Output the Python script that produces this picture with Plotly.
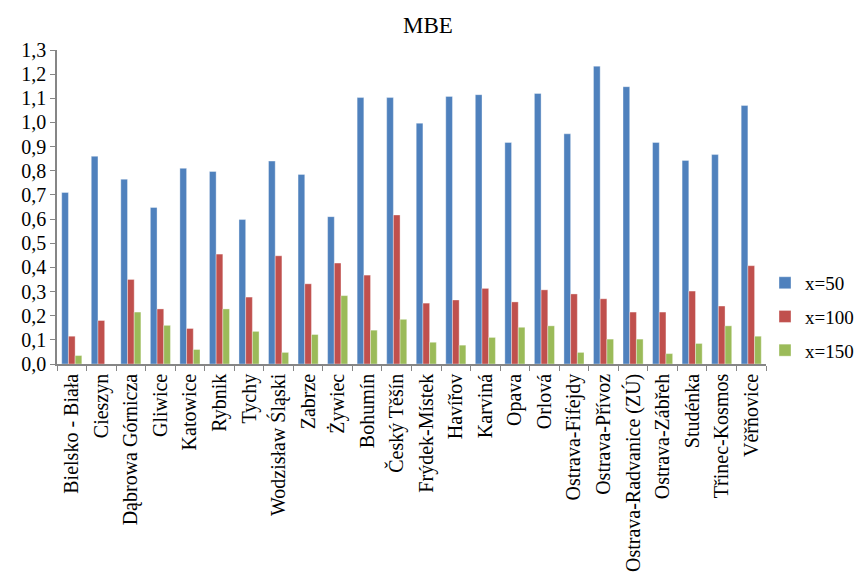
import plotly.graph_objects as go

categories = ["Bielsko - Biała", "Cieszyn", "Dąbrowa Górnicza", "Gliwice", "Katowice", "Rybnik",
              "Tychy", "Wodzisław Śląski", "Zabrze", "Żywiec", "Bohumín", "Český Těšín",
              "Frýdek-Místek", "Havířov", "Karviná", "Opava", "Orlová", "Ostrava-Fifejdy",
              "Ostrava-Přívoz", "Ostrava-Radvanice (ZÚ)", "Ostrava-Zábřeh", "Studénka",
              "Třinec-Kosmos", "Věřňovice"]
x50 = [0.71, 0.86, 0.765, 0.648, 0.81, 0.797, 0.598, 0.84, 0.785, 0.61, 1.103, 1.103,
       0.997, 1.108, 1.115, 0.917, 1.12, 0.953, 1.233, 1.148, 0.917, 0.843, 0.867, 1.07]
x100 = [0.115, 0.18, 0.35, 0.228, 0.147, 0.455, 0.277, 0.448, 0.332, 0.418, 0.368, 0.617,
        0.252, 0.265, 0.313, 0.257, 0.307, 0.29, 0.27, 0.215, 0.215, 0.302, 0.24, 0.407]
x150 = [0.035, 0.0, 0.215, 0.16, 0.06, 0.228, 0.135, 0.048, 0.122, 0.283, 0.14, 0.185,
        0.09, 0.078, 0.11, 0.152, 0.158, 0.048, 0.103, 0.103, 0.043, 0.085, 0.158, 0.115]
series_names = ["x=50", "x=100", "x=150"]
colors = ["#4F81BD", "#C0504D", "#9BBB59"]

font = "Liberation Serif"
fig = go.Figure()
for name, vals, c in zip(series_names, [x50, x100, x150], colors):
    fig.add_trace(go.Bar(x=categories, y=vals, name=name, legendgroup=name, marker_color=c,
                         marker_line=dict(width=0.6, color="rgba(255,255,255,0.6)")))

fig.update_layout(
    width=856, height=585,
    template="none",
    title=dict(text="MBE", x=0.5, xanchor="center", y=0.957, yanchor="middle",
               font=dict(family=font, size=23, color="black")),
    font=dict(family=font, size=20, color="black"),
    separators=", ",
    barmode="group", bargap=0.32, bargroupgap=0,
    plot_bgcolor="white", paper_bgcolor="white",
    margin=dict(l=57, r=90, t=50, b=221, autoexpand=False),
    legend=dict(x=0.9986, xanchor="left", y=0.15, yanchor="middle",
                font=dict(family=font, size=19), itemwidth=30,
                traceorder="grouped", tracegroupgap=6, bgcolor="rgba(0,0,0,0)"),
    xaxis=dict(tickangle=-90, showline=True, linecolor="#868686", linewidth=1.5,
               ticks="outside", tickson="boundaries", ticklen=5, tickcolor="#868686",
               showgrid=False, tickfont=dict(family=font, size=20)),
    yaxis=dict(range=[0, 1.3], dtick=0.1, tickformat=".1f", showgrid=False,
               showline=True, linecolor="#868686", linewidth=1.5, ticks="outside",
               ticklen=5, tickcolor="#868686", zeroline=False,
               tickfont=dict(family=font, size=20)),
)
fig.write_html("out.html")
